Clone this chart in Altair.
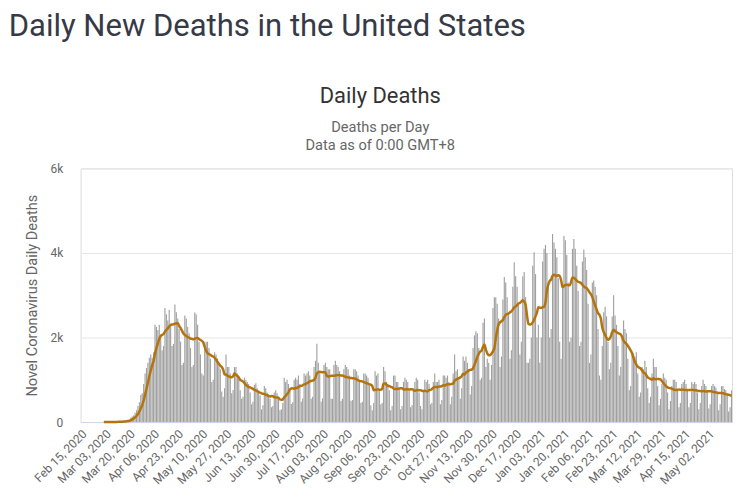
import altair as alt
import pandas as pd

# Daily new deaths, one value per day starting Sat Feb 15, 2020 (weeks Sun..Sat)
deaths = [
    0,
    0, 0, 0, 0, 0, 0, 0,            # Feb 16-22
    0, 0, 0, 0, 0, 0, 1,            # Feb 23-29
    1, 5, 1, 3, 1, 2, 2,            # Mar 1-7
    4, 4, 5, 7, 10, 10, 11,         # Mar 8-14
    12, 19, 25, 38, 56, 54, 110,    # Mar 15-21
    130, 160, 220, 280, 380, 470, 640,
    680, 900, 1150, 1280, 1400, 1520, 1600,
    1520, 1650, 2300, 2250, 2180, 2300, 2050,
    1700, 1800, 2700, 2550, 2400, 2650, 2250,
    1800, 1850, 2780, 2600, 2450, 2200, 1900,
    1350, 1400, 2520, 2450, 2250, 2100, 1750,
    1300, 1350, 2590, 2550, 2300, 1900, 1600,
    1150, 1100, 1850, 1900, 1900, 1750, 1500,
    950, 1000, 1650, 1600, 1500, 1400, 1250,
    720, 600, 800, 1600, 1300, 1300, 1150,
    680, 760, 1300, 1300, 1150, 1050, 750,
    550, 600, 1050, 1000, 950, 900, 700,
    420, 480, 880, 920, 800, 750, 630,
    300, 400, 850, 800, 700, 650, 550,
    350, 380, 700, 750, 680, 600, 280,
    300, 450, 1050, 950, 1000, 900, 780,
    430, 470, 1000, 1050, 1000, 1100, 900,
    480, 560, 1150, 1100, 1150, 1200, 1100,
    550, 600, 1300, 1450, 1850, 1400, 1200,
    480, 560, 1350, 1400, 1300, 1250, 1250,
    550, 550, 1350, 1450, 1350, 1300, 1200,
    500, 550, 1250, 1350, 1300, 1250, 1100,
    500, 520, 1250, 1250, 1200, 1100, 1000,
    450, 480, 1150, 1150, 1100, 1050, 850,
    400, 280, 450, 1200, 1100, 1150, 750,
    420, 450, 1300, 1200, 950, 900, 750,
    280, 380, 1100, 1100, 950, 950, 800,
    300, 380, 950, 1050, 1000, 950, 750,
    350, 400, 800, 950, 1050, 1000, 700,
    380, 300, 750, 1000, 950, 1000, 900,
    420, 450, 950, 1150, 950, 950, 1000,
    420, 520, 1100, 1100, 1050, 1100, 950,
    420, 600, 1150, 1600, 1200, 1250, 1050,
    550, 800, 1550, 1450, 1550, 1400, 1250,
    650, 850, 1750, 2050, 2150, 2100, 1750,
    1000, 1050, 2350, 2450, 1300, 1500, 1400,
    1000, 1350, 2700, 2950, 2950, 2800, 2450,
    1300, 1550, 2900, 3430, 3300, 2950, 2550,
    1500, 1700, 3200, 3780, 3450, 3200, 2800,
    1600, 1900, 3450, 3550, 2950, 1400, 1400,
    1500, 2000, 3700, 4020, 3500, 2000, 2300,
    1400, 2000, 3800, 4100, 4190, 4000, 3300,
    2000, 2200, 4450, 4250, 4100, 3900, 3400,
    1900, 1500, 3300, 4400, 4300, 3950, 3300,
    1900, 2000, 4100, 4330, 4100, 3700, 3100,
    1800, 1900, 3800, 4080, 3900, 3600, 2800,
    1400, 1600, 3300, 3350, 3200, 3000, 2200,
    1100, 1000, 1800, 2600, 2730, 2500, 1900,
    1250, 1400, 2500, 3000, 2520, 2300, 1800,
    1100, 1300, 2050, 2400, 2200, 2100, 1500,
    750, 850, 1600, 1620, 1550, 1650, 1150,
    600, 700, 1300, 1250, 1450, 1300, 800,
    450, 600, 1150, 1500, 1300, 1300, 850,
    400, 550, 900, 1150, 1050, 1000, 700,
    300, 500, 850, 1000, 1000, 950, 750,
    350, 450, 900, 950, 1000, 900, 750,
    350, 450, 950, 900, 950, 900, 700,
    300, 450, 850, 1000, 900, 850, 750,
    320, 420, 850, 900, 850, 820, 700,
    280, 420, 850, 850, 780, 750, 620,
    250, 350, 750,
]

tick_labels = [
    "Feb 15, 2020", "Mar 03, 2020", "Mar 20, 2020", "Apr 06, 2020", "Apr 23, 2020",
    "May 10, 2020", "May 27, 2020", "Jun 13, 2020", "Jun 30, 2020", "Jul 17, 2020",
    "Aug 03, 2020", "Aug 20, 2020", "Sep 06, 2020", "Sep 23, 2020", "Oct 10, 2020",
    "Oct 27, 2020", "Nov 13, 2020", "Nov 30, 2020", "Dec 17, 2020", "Jan 03, 2021",
    "Jan 20, 2021", "Feb 06, 2021", "Feb 23, 2021", "Mar 12, 2021", "Mar 29, 2021",
    "Apr 15, 2021", "May 02, 2021",
]

y_ticks = [0, 2000, 4000, 6000]

dates = pd.date_range("2020-02-15", periods=len(deaths), freq="D").strftime("%b %d, %Y").tolist()
df = pd.DataFrame({"date": dates, "deaths": deaths, "idx": list(range(len(deaths)))})

FONT = "Roboto"

x_enc = alt.X(
    "date:N", sort=None, title=None,
    scale=alt.Scale(paddingInner=0.2, paddingOuter=0),
    axis=alt.Axis(values=tick_labels, labelAngle=-45, labelFont=FONT, labelFontSize=12,
                  labelColor="#666666", ticks=False, domainColor="#ccd6eb", domainWidth=1,
                  grid=False, labelPadding=6, labelOverlap=False, labelBound=False),
)

y_axis = alt.Axis(values=y_ticks,
                  labelExpr="datum.value == 0 ? '0' : format(datum.value / 1000, 'd') + 'k'",
                  title="Novel Coronavirus Daily Deaths", titleFont=FONT, titleFontSize=14.6,
                  titleFontWeight="normal", titleColor="#666666", titlePadding=11,
                  labelFont=FONT, labelFontSize=12, labelColor="#666666", labelPadding=18,
                  ticks=False, domain=False, gridColor="#e6e6e6")
y_scale = alt.Scale(domain=[0, 6000], nice=False)

base = alt.Chart(df)

bars = base.mark_bar(color="#a0a0a0").encode(
    x=x_enc,
    y=alt.Y("deaths:Q", scale=y_scale, axis=y_axis),
)

line = base.transform_window(
    avg="mean(deaths)", frame=[-6, 0], sort=[alt.SortField("idx")]
).transform_filter("datum.idx >= 16").mark_line(
    color="#b5730c", strokeWidth=2.5, interpolate="monotone"
).encode(
    x=x_enc,
    y=alt.Y("avg:Q", scale=y_scale, axis=y_axis),
)

inner = alt.layer(bars, line).properties(
    width=655, height=255,
    title=alt.TitleParams(
        "Daily Deaths", subtitle=["Deaths per Day", "Data as of 0:00 GMT+8"],
        font=FONT, fontSize=22, fontWeight="normal", color="#333333",
        subtitleFont=FONT, subtitleFontSize=14.7, subtitleColor="#666666",
        subtitleLineHeight=18, subtitlePadding=12, offset=9, anchor="middle",
        frame="bounds",
    ),
)

chart = alt.vconcat(
    inner,
    title=alt.TitleParams(
        "Daily New Deaths in the United States", anchor="start", font=FONT,
        fontSize=31.2, fontWeight="normal", color="#363a47", offset=43, dx=-15,
    ),
).properties(
    padding={"left": 0, "top": 1, "right": 5, "bottom": 0},
).configure_view(stroke=None).configure(background="white")

chart.save("out.html", embed_options={"renderer": "svg", "actions": False})
